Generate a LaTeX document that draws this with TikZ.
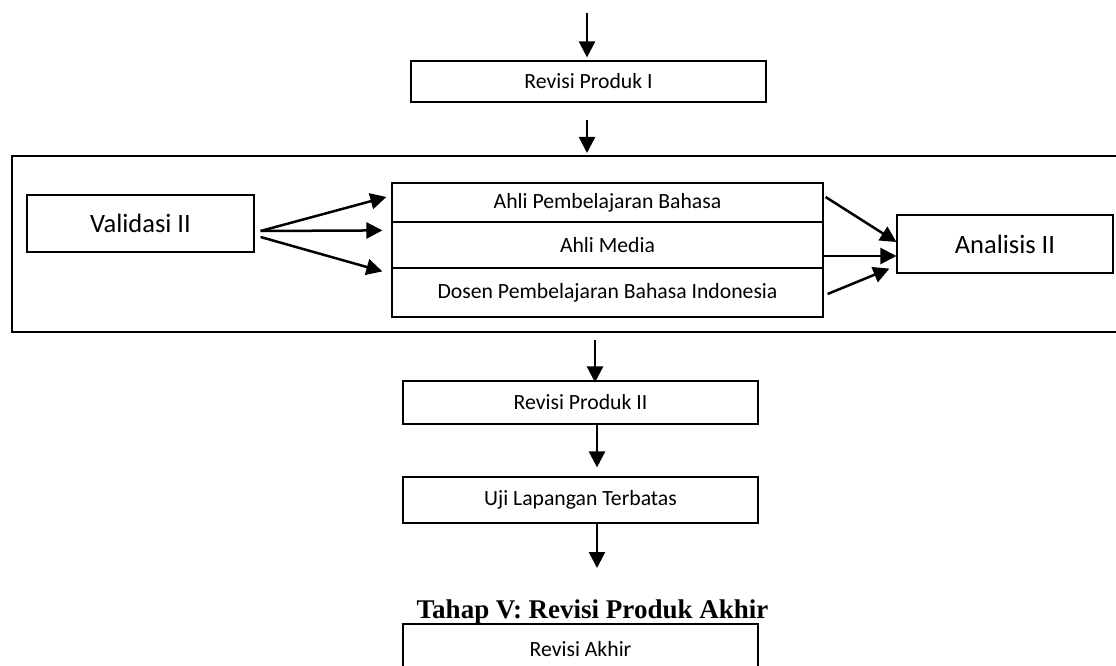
\documentclass[tikz,border=0pt]{standalone}
\usepackage{fontspec}
\setmainfont{Carlito}
\newfontfamily\titlefont{Liberation Serif}
\usetikzlibrary{arrows.meta, calc}

\begin{document}
\begin{tikzpicture}[
    x=1pt, y=-1pt,
    stepbox/.style={
        rectangle,
        draw,
        line width=1.2pt,
        inner sep=0pt,
        minimum width=355pt,
        font=\fontsize{21.7}{26}\selectfont
    },
    bigbox/.style={stepbox, font=\fontsize{26.5}{31}\selectfont},
    arr/.style={-{Triangle[width=16pt,length=16pt]}, line width=2.5pt}
]
    \useasboundingbox (0,0) rectangle (1116,666);
    \clip (0,0) rectangle (1116,666);

    \node[stepbox, minimum height=41pt] (rev1) at (588.5,81.5) {Revisi Produk I};
    \coordinate (start) at (587,13);
    \draw[arr] (start) -- ([yshift=3pt]start |- rev1.north);

    \coordinate (frameNW) at (12,156);
    \coordinate (frameSW) at (12,332);
    \draw[line width=2.5pt] (1130,156) -- (frameNW) -- (frameSW) -- (1130,332);
    \coordinate (in2) at (587,120);
    \draw[arr] (in2) -- ([yshift=3pt]in2 |- frameNW);

    \node[bigbox, minimum width=227pt, minimum height=57pt] (val) at (140.5,223.5) {Validasi II};
    \node[stepbox, minimum width=431pt, minimum height=39pt] (ahli) at (607.5,202.5) {Ahli Pembelajaran Bahasa};
    \node[stepbox, minimum width=431pt, minimum height=46pt] (media) at (607.5,245) {Ahli Media};
    \node[stepbox, minimum width=431pt, minimum height=49pt] (dosen) at (607.5,292.5) {Dosen Pembelajaran Bahasa Indonesia};
    \node[bigbox, minimum width=216pt, minimum height=58pt] (ana) at (1005,244) {Analisis II};

    \draw[arr] ($(val.east)+(6,7.5)$) -- ($(ahli.west)+(-5,-5.5)$);
    \draw[arr] ($(val.east)+(6,7.5)$) -- ($(media.north west)+(-9,9)$);
    \draw[arr] ($(val.east)+(6,13.5)$) -- ($(dosen.north west)+(-9,4)$);

    \draw[arr] ($(ahli.east)+(2,-5.5)$) -- ($(ana.west)+(0,-2)$);
    \draw[arr] ($(media.east)+(0,11)$) -- ($(ana.west)+(0,12)$);
    \draw[arr] ($(dosen.east)+(4,1.5)$) -- ($(ana.south west)+(-7,-5)$);

    \node[stepbox, minimum height=43pt] (rev2) at (580.5,402.5) {Revisi Produk II};
    \coordinate (out1) at (595,340);
    \draw[arr] (out1) -- ([yshift=-2pt]out1 |- rev2.north);

    \node[stepbox, minimum height=46pt] (uji) at (580.5,500) {Uji Lapangan Terbatas};
    \draw[arr] (rev2.south -| 597,0) -- ([yshift=9pt]uji.north -| 597,0);
    \coordinate (out2) at (597,568);
    \draw[arr] (uji.south -| out2) -- (out2);

    \node[anchor=base, inner sep=0pt, font=\titlefont\bfseries\fontsize{27}{31}\selectfont] (tahap) at (592.5,618) {Tahap V: Revisi Produk Akhir};
    \node[stepbox, minimum height=50pt] (akhir) at (580.5,649) {Revisi Akhir};
\end{tikzpicture}
\end{document}
